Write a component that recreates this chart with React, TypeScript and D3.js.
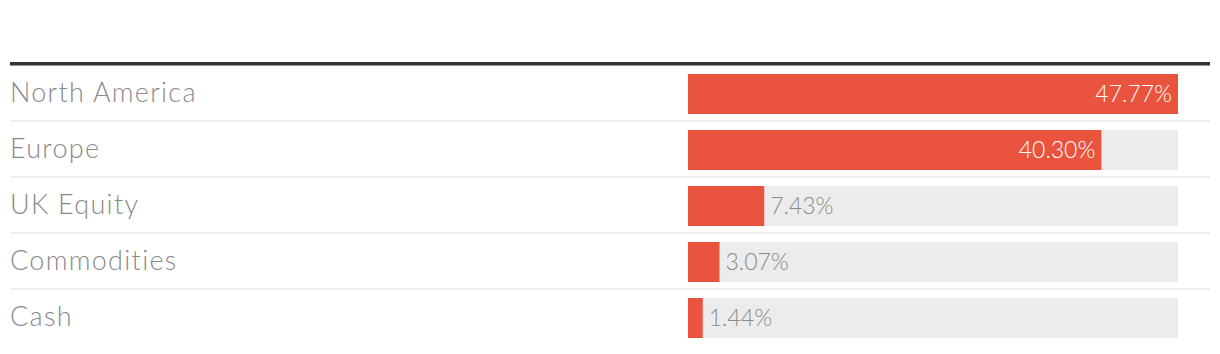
import { useEffect, useRef } from 'react';
import * as d3 from 'd3';

const regions = ['North America', 'Europe', 'UK Equity', 'Commodities', 'Cash'];
const weights = [47.77, 40.3, 7.43, 3.07, 1.44];

export default function App() {
  const ref = useRef<SVGSVGElement | null>(null);

  useEffect(() => {
    if (!ref.current) return;
    const width = 1220;
    const height = 354;
    const svg = d3.select(ref.current);
    svg.selectAll('*').remove();
    svg.attr('width', width).attr('height', height);

    const font = "Lato, 'Open Sans', sans-serif";
    const rows = regions.map((name, i) => ({ name, value: weights[i] }));

    // row bands
    const y = d3.scaleBand<string>()
      .domain(regions)
      .range([66, 66 + 56 * regions.length]);

    const x = d3.scaleLinear()
      .domain([0, d3.max(weights)!])
      .range([688, 1178]);

    // heavy top rule
    svg.append('rect')
      .attr('x', 10).attr('y', 62).attr('width', 1200).attr('height', 3.5)
      .attr('fill', '#333');

    // light separators between rows
    svg.selectAll('.sep')
      .data(rows.slice(0, -1))
      .enter()
      .append('rect')
      .attr('class', 'sep')
      .attr('x', 10)
      .attr('y', (d) => y(d.name)! + 54)
      .attr('width', 1200)
      .attr('height', 2)
      .attr('fill', '#eeeeee');

    const g = svg.selectAll('.row')
      .data(rows)
      .enter()
      .append('g')
      .attr('class', 'row')
      .attr('transform', (d) => `translate(0,${y(d.name)})`);

    g.append('text')
      .attr('x', 10)
      .attr('y', 36)
      .attr('fill', '#8a8a8a')
      .style('font-family', font)
      .style('font-weight', 300)
      .style('font-size', '27px')
      .style('letter-spacing', '1.3px')
      .text((d) => d.name);

    // background track
    g.append('rect')
      .attr('x', x(0))
      .attr('y', 8)
      .attr('width', x(d3.max(weights)!) - x(0))
      .attr('height', 40)
      .attr('fill', '#ececec');

    g.append('rect')
      .attr('x', x(0))
      .attr('y', 8)
      .attr('width', (d) => x(d.value) - x(0))
      .attr('height', 40)
      .attr('fill', '#ea533d');

    g.append('text')
      .attr('x', (d) => (d.value > 20 ? x(d.value) - 6 : x(d.value) + 6))
      .attr('y', 36)
      .attr('text-anchor', (d) => (d.value > 20 ? 'end' : 'start'))
      .attr('fill', (d) => (d.value > 20 ? '#ffffff' : '#8a8a8a'))
      .style('font-family', font)
      .style('font-weight', 300)
      .style('font-size', '23px')
      .text((d) => `${d.value.toFixed(2)}%`);
  }, []);

  return (
    <svg
      ref={ref}
      style={{ position: 'absolute', left: 0, top: 0, display: 'block', background: '#fff' }}
    />
  );
}
